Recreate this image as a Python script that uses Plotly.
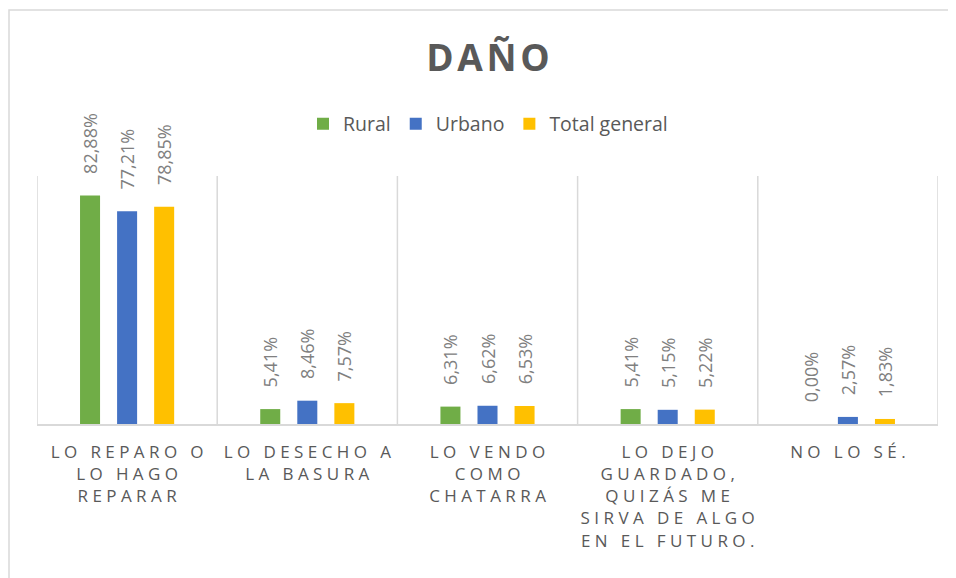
import plotly.graph_objects as go

categories = ["LO REPARO O<br>LO HAGO<br>REPARAR",
              "LO DESECHO A<br>LA BASURA",
              "LO VENDO<br>COMO<br>CHATARRA",
              "LO DEJO<br>GUARDADO,<br>QUIZÁS ME<br>SIRVA DE ALGO<br>EN EL FUTURO.",
              "NO LO SÉ."]
rural = [82.88, 5.41, 6.31, 5.41, 0.00]
urbano = [77.21, 8.46, 6.62, 5.15, 2.57]
total = [78.85, 7.57, 6.53, 5.22, 1.83]
series_names = ["Rural", "Urbano", "Total general"]
colors = ["#70AD47", "#4472C4", "#FFC000"]

NB = "\u00a0"
HS = "\u200a"

# page offset (browser body margin)
OFF = 8
W, H = 956, 578


def spaced(label):
    lines = label.split("<br>")
    out = []
    for ln in lines:
        words = ln.split(" ")
        out.append((NB * 3).join(NB.join(list(w)) for w in words))
    return "<br>".join(out)


tick_text = [spaced(c) for c in categories]
xs = list(range(len(categories)))

# plot area in screen pixels
PX0, PX1, PY0, PY1 = 37, 938, 176, 424
pw, ph = PX1 - PX0, PY1 - PY0

fig = go.Figure()
for name, vals, col in zip(series_names, [rural, urbano, total], colors):
    fig.add_trace(go.Bar(
        x=xs, y=vals, name=name, marker=dict(color=col, line=dict(width=0)),
        texttemplate=NB * 4 + "%{y:.2f}%", textposition="outside", textangle=-90,
        constraintext="none",
        textfont=dict(family="Open Sans", size=18, color="#808080"),
        cliponaxis=False,
    ))

fig.update_layout(
    width=W, height=H,
    margin=dict(l=PX0 - OFF, r=W - (PX1 - OFF), t=PY0 - OFF, b=H - (PY1 - OFF)),
    paper_bgcolor="white", plot_bgcolor="white",
    separators=",.",
    barmode="group", bargap=0.383, bargroupgap=0.46,
    title=dict(text="<b>" + HS.join(list("DAÑO")) + "</b>", x=(488 - OFF) / W, xref="container",
               xanchor="center",
               y=1 - (58 - OFF) / H, yref="container", yanchor="middle",
               font=dict(family="Open Sans", size=37, color="#595959")),
    legend=dict(orientation="h", x=(488 - OFF) / W, xref="container", xanchor="center",
                y=1 - (124 - OFF) / H, yref="container", yanchor="middle",
                font=dict(family="Open Sans", size=19.5, color="#595959"),
                itemwidth=30, traceorder="normal"),
    xaxis=dict(tickmode="array", tickvals=xs, ticktext=tick_text,
               type="linear", range=[-0.5, 4.5],
               showgrid=False, zeroline=False,
               showline=True, linecolor="#D9D9D9", linewidth=1.5,
               ticks="", ticklabelstandoff=12,
               tickfont=dict(family="Open Sans", size=17, color="#595959")),
    yaxis=dict(range=[0, 90], visible=False, showgrid=False, zeroline=False),
    shapes=[
        dict(type="rect", xref="paper", yref="paper",
             x0=(9 - PX0) / pw, x1=(975 - PX0) / pw,
             y0=(PY1 - 620) / ph, y1=(PY1 - 10) / ph,
             line=dict(color="#D9D9D9", width=1.5), fillcolor="rgba(0,0,0,0)",
             layer="below"),
    ] + [
        dict(type="line", xref="x", yref="paper", x0=b, x1=b, y0=0, y1=1,
             line=dict(color="#D9D9D9", width=1.5), layer="below")
        for b in [-0.5, 0.5, 1.5, 2.5, 3.5, 4.5]
    ],
)

fig.write_html("out.html")
